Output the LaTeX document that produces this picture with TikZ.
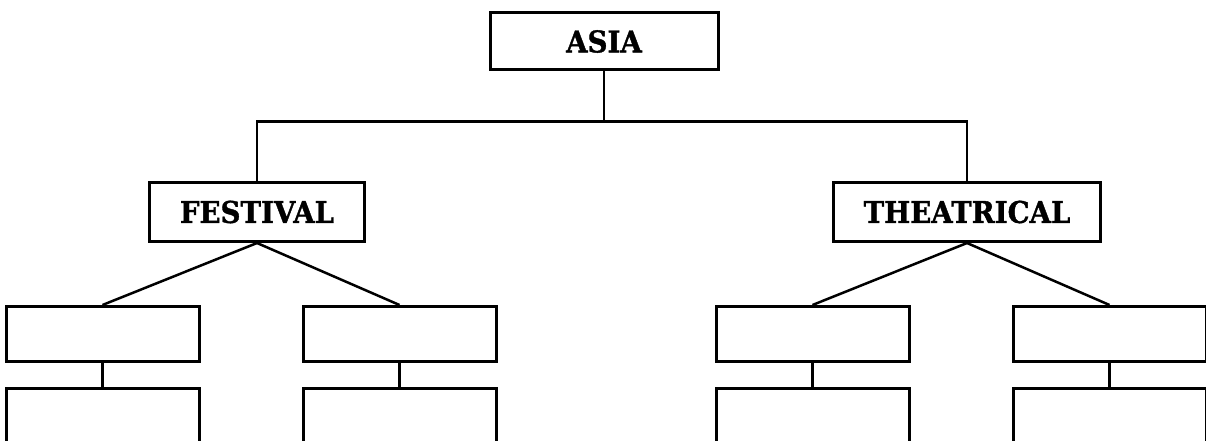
\documentclass[tikz,border=0pt]{standalone}
\usepackage{fontspec}
\setmainfont{DejaVu Serif}[FakeStretch=0.92,FakeBold=1.2]

\begin{document}
\begin{tikzpicture}[x=1pt,y=1pt,
  box/.style={draw,rectangle,line width=3pt,font=\fontsize{30}{36}\selectfont\bfseries},
  rootbox/.style={box,minimum width=228pt,minimum height=57pt},
  catbox/.style={box,inner xsep=30pt,minimum height=59pt,xshift=8pt},
  blankbox/.style={box,minimum width=193pt,minimum height=55pt},
  subbox/.style={blankbox,xshift=-6pt},
  edge from parent/.style={draw,line width=2.5pt},
  level 1/.style={sibling distance=710pt,level distance=170.5pt,
    edge from parent path={(\tikzparentnode.south) -- ++(0,-50) -| (\tikzchildnode.north)}},
  level 2/.style={sibling distance=297pt,level distance=122pt,
    edge from parent path={(\tikzparentnode.south) -- (\tikzchildnode.north)}},
  level 3/.style={level distance=81.5pt}]
\useasboundingbox (0,0) rectangle (1206,-441);
\clip (0,0) rectangle (1206,-441);
\node [rootbox](asia) at (604,-41.5){ASIA}
  child { node[catbox](festival){FESTIVAL}
    child { node[subbox](festA){}
      child { node[blankbox](festAsub){} }
    }
    child { node[subbox](festB){}
      child { node[blankbox](festBsub){} }
    }
  }
  child { node[catbox](theatrical){THEATRICAL}
    child { node[subbox](theaA){}
      child { node[blankbox](theaAsub){} }
    }
    child { node[subbox](theaB){}
      child { node[blankbox](theaBsub){} }
    }
  };
\end{tikzpicture}
\end{document}
